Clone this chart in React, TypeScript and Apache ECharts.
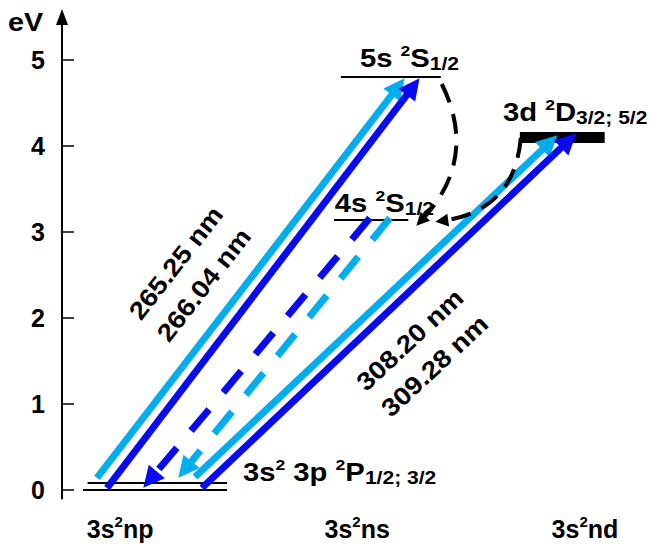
import React, { useEffect, useRef } from 'react';
import * as echarts from 'echarts';

const FONT = '"Liberation Sans", Arial, Helvetica, sans-serif';
const LIGHT = '#00AEEF';
const DARK = '#0A0AF0';

// ---- axes ----
const yTickValues = [0, 1, 2, 3, 4, 5];
const columnLabels = ['np', 'ns', 'nd'];
const columnPositions = [1, 2.02, 3];

// ---- energy levels (eV) ----
const levelNames = ['3p 2P1/2', '3p 2P3/2', '4s 2S1/2', '5s 2S1/2', '3d 2D3/2;5/2'];
const levelEnergy = [0, 0.08, 3.14, 4.8, 4.1];
const levelXStart = [0.84, 0.86, 1.92, 1.95, 2.72];
const levelXEnd = [1.46, 1.46, 2.24, 2.38, 3.085];

// ---- solid transitions (arrows up) ----
const transitionNames = ['265.25 nm', '266.04 nm', '308.20 nm', '309.28 nm'];
const transStartX = [0.9005, 0.9435, 1.322, 1.352];
const transStartE = [0.14, 0.023, 0.151, 0.023];
const transEndX = [2.1965, 2.261, 2.849, 2.9306];
const transEndE = [4.69, 4.69, 4.041, 4.063];

// ---- dashed cascades 4s -> 3p ----
const cascadeStartX = [2.0747, 2.1608];
const cascadeStartE = [3.163, 3.163];
const cascadeEndX = [1.1289, 1.279];
const cascadeEndE = [0.121, 0.238];

// ---- black dashed decays 5s -> 4s, 3d -> 4s ----
const decayStartX = [2.384, 2.724];
const decayStartE = [4.721, 4.093];
const decayEndX = [2.294, 2.384];
const decayEndE = [3.128, 3.128];

// ---- annotations ----
const labelTexts = [
  '{m|5s }{sup|2}{m|S}{sub|1/2}',
  '{m|4s }{sup|2}{m|S}{sub|1/2}',
  '{m|3d }{sup|2}{m|D}{sub|3/2; 5/2}',
  '{m|3s}{sup|2}{m| 3p }{sup|2}{m|P}{sub|1/2; 3/2}',
  '{m|265.25 nm}',
  '{m|266.04 nm}',
  '{m|308.20 nm}',
  '{m|309.28 nm}',
];
const labelX = [2.0317, 1.924, 2.647, 1.5285, 1.2403, 1.3608, 2.2468, 2.354];
const labelY = [5.023, 3.337, 4.395, 0.209, 2.64, 2.384, 1.744, 1.442];
const labelRotate = [0, 0, 0, 0, 52, 52, 43, 43];
const labelAlign = ['left', 'left', 'left', 'left', 'center', 'center', 'center', 'center'];

const RICH = {
  m: { fontSize: 25, fontWeight: 'bold', fontFamily: FONT, fill: '#000', color: '#000', lineHeight: 30, verticalAlign: 'middle' },
  sup: { fontSize: 15, fontWeight: 'bold', fontFamily: FONT, fill: '#000', color: '#000', lineHeight: 30, verticalAlign: 'top' },
  sub: { fontSize: 18, fontWeight: 'bold', fontFamily: FONT, fill: '#000', color: '#000', lineHeight: 30, verticalAlign: 'bottom' },
};

function seg(x0: number, e0: number, x1: number, e1: number) {
  return { coords: [[x0, e0], [x1, e1]] };
}

export default function App() {
  const ref = useRef<HTMLDivElement>(null);
  useEffect(() => {
    if (!ref.current) return;
    const chart = echarts.init(ref.current, null, { renderer: 'svg' });

    const thinLevels = levelNames
      .map((n, i) => ({ n, i }))
      .filter((d) => !d.n.startsWith('3d'))
      .map((d) => seg(levelXStart[d.i], levelEnergy[d.i], levelXEnd[d.i], levelEnergy[d.i]));
    const thickLevels = levelNames
      .map((n, i) => ({ n, i }))
      .filter((d) => d.n.startsWith('3d'))
      .map((d) => seg(levelXStart[d.i], levelEnergy[d.i], levelXEnd[d.i], levelEnergy[d.i]));

    const transSeg = (i: number) => seg(transStartX[i], transStartE[i], transEndX[i], transEndE[i]);
    const cascSeg = (i: number) => seg(cascadeStartX[i], cascadeStartE[i], cascadeEndX[i], cascadeEndE[i]);
    const decaySeg = (i: number) => seg(decayStartX[i], decayStartE[i], decayEndX[i], decayEndE[i]);

    const arrowSeries = (data: any[], color: string, dashed: boolean) => ({
      type: 'lines',
      coordinateSystem: 'cartesian2d',
      silent: true,
      symbol: ['none', 'triangle'],
      symbolSize: 21,
      lineStyle: { color, width: 7, opacity: 1, type: dashed ? [28, 22] : 'solid', curveness: 0 },
      data,
    });

    const option: any = {
      animation: false,
      backgroundColor: '#fff',
      grid: { left: 62, right: 0, top: 17, bottom: 50.4, containLabel: false },
      xAxis: {
        type: 'value',
        min: 0.75,
        max: 3.28,
        splitLine: { show: false },
        axisTick: { show: false },
        axisLine: {
          show: true,
          onZero: false,
          lineStyle: {
            width: 2,
            color: new echarts.graphic.LinearGradient(0, 0, 1, 0, [
              { offset: 0, color: '#000' },
              { offset: 0.28, color: '#000' },
              { offset: 0.42, color: 'rgba(0,0,0,0)' },
              { offset: 1, color: 'rgba(0,0,0,0)' },
            ]),
          },
        },
        axisLabel: {
          customValues: columnPositions,
          margin: 15,
          formatter: (v: number) => {
            const i = columnPositions.findIndex((p) => Math.abs(p - v) < 1e-6);
            return i >= 0 ? '{m|3s}{sup|2}{m|' + columnLabels[i] + '}' : '';
          },
          rich: {
            m: { fontSize: 25, fontWeight: 'bold', fontFamily: FONT, color: '#000', lineHeight: 30, verticalAlign: 'middle' },
            sup: { fontSize: 15, fontWeight: 'bold', fontFamily: FONT, color: '#000', lineHeight: 30, verticalAlign: 'top' },
          },
        },
      },
      yAxis: {
        type: 'value',
        min: -0.1,
        max: 5.5,
        splitLine: { show: false },
        axisLine: {
          show: true,
          symbol: ['none', 'triangle'],
          symbolSize: [12, 16],
          lineStyle: { color: '#000', width: 2 },
        },
        axisTick: {
          show: true,
          inside: true,
          length: 12,
          customValues: yTickValues,
          lineStyle: { color: '#000', width: 1.5 },
        },
        axisLabel: {
          customValues: yTickValues,
          margin: 17,
          fontSize: 25,
          fontWeight: 'bold',
          fontFamily: FONT,
          color: '#000',
        },
      },
      graphic: [
        {
          type: 'text',
          left: 8,
          top: 10,
          scaleX: 1.15,
          style: { text: 'eV', fontSize: 25, fontWeight: 'bold', fontFamily: FONT, fill: '#000' },
        },
      ],
      series: [
        {
          type: 'lines',
          coordinateSystem: 'cartesian2d',
          silent: true,
          symbol: 'none',
          lineStyle: { color: '#000', width: 2, opacity: 1, curveness: 0 },
          data: thinLevels,
        },
        {
          type: 'lines',
          coordinateSystem: 'cartesian2d',
          silent: true,
          symbol: 'none',
          lineStyle: { color: '#000', width: 11, opacity: 1, curveness: 0 },
          data: thickLevels,
        },
        arrowSeries([transSeg(0), transSeg(2)], LIGHT, false),
        arrowSeries([transSeg(1), transSeg(3)], DARK, false),
        arrowSeries([cascSeg(0)], DARK, true),
        arrowSeries([cascSeg(1)], LIGHT, true),
        {
          type: 'lines',
          coordinateSystem: 'cartesian2d',
          silent: true,
          symbol: ['none', 'triangle'],
          symbolSize: 13,
          lineStyle: { color: '#000', width: 4, opacity: 1, type: [20, 12], curveness: 0.35 },
          data: [decaySeg(0)],
        },
        {
          type: 'lines',
          coordinateSystem: 'cartesian2d',
          silent: true,
          symbol: ['none', 'triangle'],
          symbolSize: 13,
          lineStyle: { color: '#000', width: 4, opacity: 1, type: [20, 12], curveness: 0.4 },
          data: [decaySeg(1)],
        },
        {
          type: 'custom',
          coordinateSystem: 'cartesian2d',
          silent: true,
          clip: false,
          encode: { x: 0, y: 1 },
          data: labelX.map((x, i) => [x, labelY[i], i]),
          renderItem: (params: any, api: any) => {
            const i = params.dataIndex;
            const p = api.coord([labelX[i], labelY[i]]);
            return {
              type: 'text',
              x: p[0],
              y: p[1],
              rotation: (labelRotate[i] * Math.PI) / 180,
              scaleX: labelRotate[i] ? 1.12 : 1.17,
              style: {
                text: labelTexts[i],
                rich: RICH,
                fontSize: 25,
                fontWeight: 'bold',
                fontFamily: FONT,
                fill: '#000',
                align: labelAlign[i],
                verticalAlign: 'middle',
              },
            };
          },
        },
      ],
    };
    chart.setOption(option);
    return () => chart.dispose();
  }, []);
  return <div ref={ref} style={{ width: 650, height: 549, position: 'absolute', left: 0, top: 0 }} />;
}
